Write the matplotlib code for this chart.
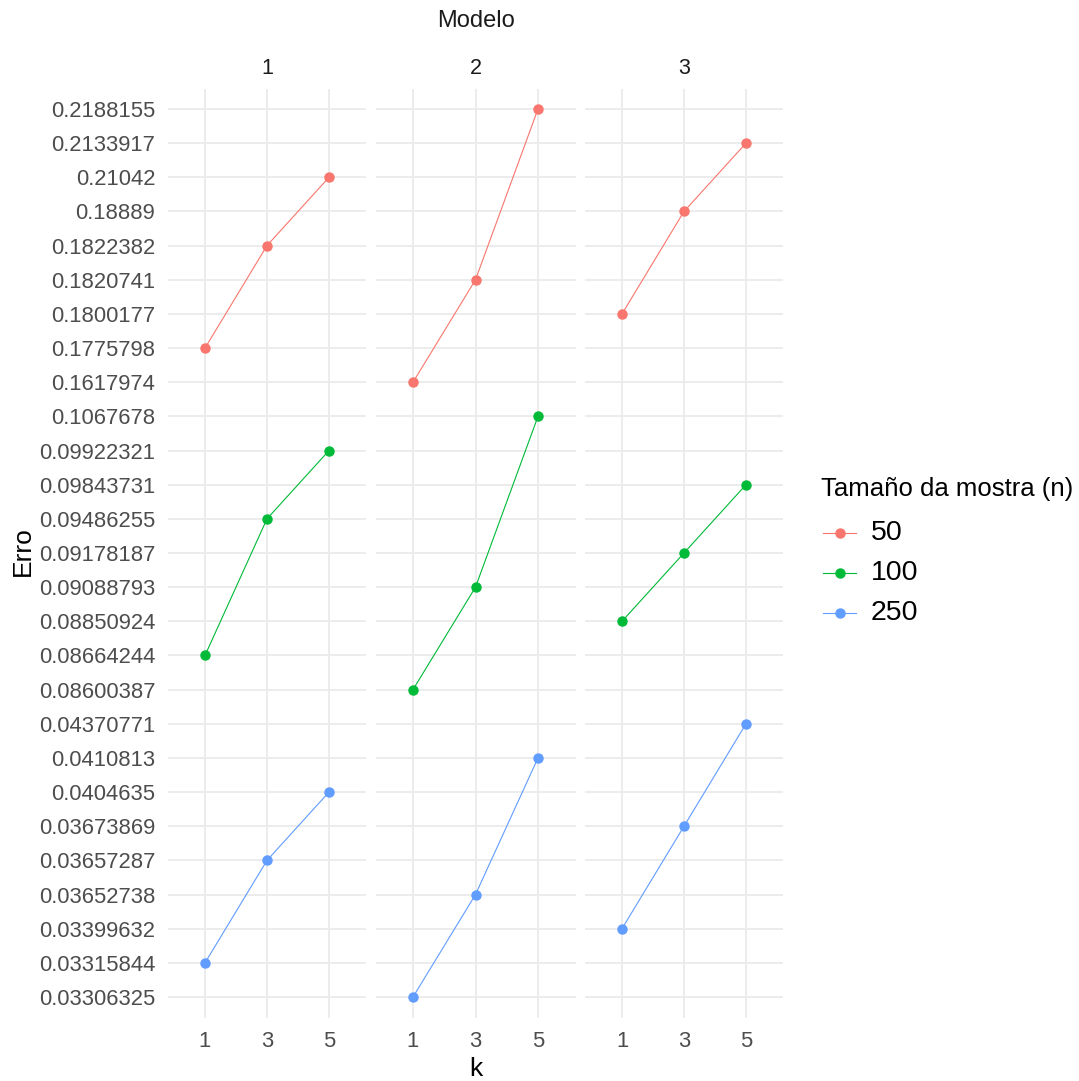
import matplotlib
matplotlib.use("Agg")
import matplotlib.pyplot as plt
from matplotlib.lines import Line2D

plt.rcParams['font.family'] = ['Liberation Sans', 'DejaVu Sans']

models = ["1", "2", "3"]
k_levels = ["1", "3", "5"]
sizes = ["50", "100", "250"]
colors = ["#F8766D", "#00BA38", "#619CFF"]

# errors per model and sample size -> values for k = 1, 3, 5
err_m1_n50 = [0.1775798, 0.1822382, 0.21042]
err_m1_n100 = [0.08664244, 0.09486255, 0.09922321]
err_m1_n250 = [0.03315844, 0.03657287, 0.0404635]
err_m2_n50 = [0.1617974, 0.1820741, 0.2188155]
err_m2_n100 = [0.08600387, 0.09088793, 0.1067678]
err_m2_n250 = [0.03306325, 0.03652738, 0.0410813]
err_m3_n50 = [0.1800177, 0.18889, 0.2133917]
err_m3_n100 = [0.08850924, 0.09178187, 0.09843731]
err_m3_n250 = [0.03399632, 0.03673869, 0.04370771]

data = {
    "1": [err_m1_n50, err_m1_n100, err_m1_n250],
    "2": [err_m2_n50, err_m2_n100, err_m2_n250],
    "3": [err_m3_n50, err_m3_n100, err_m3_n250],
}

# categorical (factor) y axis: sorted unique values
all_vals = sorted({v for m in data.values() for s in m for v in s})
levels = ["%.7g" % v for v in all_vals]
ypos = {lab: i + 1 for i, lab in enumerate(levels)}

W, H = 1079, 1081
fig = plt.figure(figsize=(W / 100, H / 100), dpi=100)
fig.patch.set_facecolor("white")

panel_x = [(167.8, 366.2), (375.5, 575.5), (584.8, 783.2)]
top_px, bot_px = 88.5, 1017.5

grid_c = "#EBEBEB"
tick_c = "#4D4D4D"

for pi, m in enumerate(models):
    x0, x1 = panel_x[pi]
    ax = fig.add_axes([x0 / W, 1 - bot_px / H, (x1 - x0) / W, (bot_px - top_px) / H])
    ax.set_facecolor("none")
    for sp in ax.spines.values():
        sp.set_visible(False)
    ax.set_xlim(0.4, 3.6)
    ax.set_ylim(0.4, len(levels) + 0.6)
    ax.set_xticks([1, 2, 3])
    ax.set_xticklabels(k_levels)
    ax.set_yticks(range(1, len(levels) + 1))
    if pi == 0:
        ax.set_yticklabels(levels)
    else:
        ax.set_yticklabels([])
    ax.tick_params(length=0, labelsize=15.8, labelcolor=tick_c, pad=9)
    ax.tick_params(axis='x', pad=10)
    ax.grid(True, color=grid_c, linewidth=1.3)
    ax.set_axisbelow(True)
    for si, s in enumerate(sizes):
        vals = data[m][si]
        ys = [ypos["%.7g" % v] for v in vals]
        ax.plot([1, 2, 3], ys, color=colors[si], lw=0.8, marker="o", ms=6.5, zorder=3)
    fig.text((x0 + x1) / 2 / W, 1 - 69 / H, m, ha="center", va="center", fontsize=15.5, color="#1A1A1A")

fig.text(475.5 / W, 1 - 21 / H, "Modelo", ha="center", va="center", fontsize=17, color="#1A1A1A")
fig.text(475.5 / W, 1 - 1069 / H, "k", ha="center", va="center", fontsize=19, color="black")
fig.text(23 / W, 1 - 551 / H, "Erro", ha="center", va="center", rotation=90, fontsize=19, color="black")

# legend
fig.text(821 / W, 1 - 489 / H, "Tamaño da mostra (n)", ha="left", va="center", fontsize=18.5, color="black")
leg_y = [533, 573, 613]
for si, s in enumerate(sizes):
    y = 1 - leg_y[si] / H
    fig.add_artist(Line2D([823 / W, 856 / W], [y, y], color=colors[si], lw=0.8))
    fig.add_artist(Line2D([840 / W], [y], color=colors[si], marker="o", ms=6.5, lw=0))
    fig.text(871 / W, y, s, ha="left", va="center", fontsize=20.5, color="black")

fig.savefig("out.png", dpi=100, facecolor="white")
